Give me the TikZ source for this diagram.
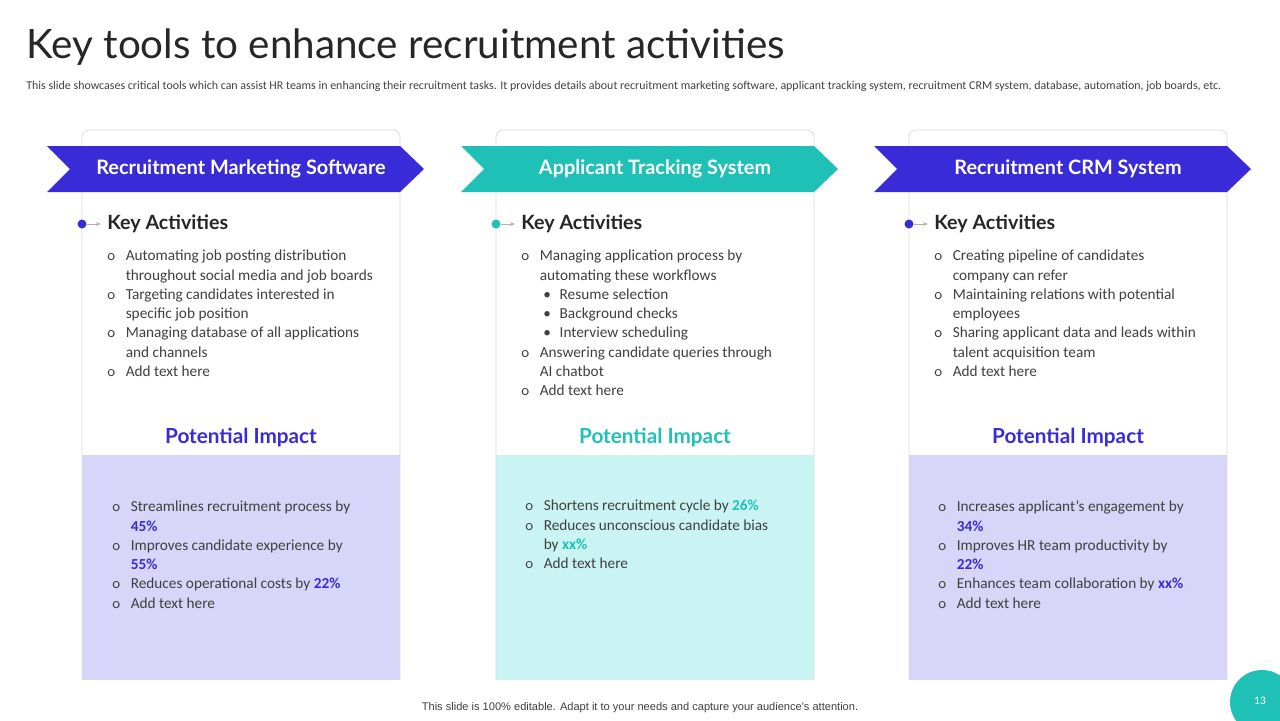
\documentclass[tikz,border=0pt]{standalone}
\usepackage{fontspec}
\setmainfont{Carlito}
\newfontfamily\headfont{Lato}
\newfontfamily\footfont{Liberation Sans}
\usetikzlibrary{positioning,arrows.meta}
\definecolor{blueA}{HTML}{3A2BD9}
\definecolor{tealA}{HTML}{1FC1B6}
\definecolor{lavA}{HTML}{D8D6F8}
\definecolor{cyanA}{HTML}{C9F4F3}
\definecolor{txtA}{HTML}{3F3F3F}
\tikzset{
  banner/.style={fill=#1, draw=none},
  bannertxt/.style={text=white, font=\headfont\bfseries\fontsize{11.3}{13}\selectfont},
  keytxt/.style={anchor=west, inner sep=0pt, font=\headfont\bfseries\fontsize{11.2}{13}\selectfont, text=black!85},
  impact/.style={inner sep=0pt, font=\headfont\bfseries\fontsize{11.8}{14}\selectfont, text=#1},
  bullets/.style={anchor=north west, inner sep=0pt, text=txtA, font=\fontsize{8.7}{10.95}\selectfont},
}
\newcommand{\ob}{\textsf{o}}
\begin{document}
\begin{tikzpicture}[x=0.02cm,y=-0.02cm]
\useasboundingbox (0,0) rectangle (1280,720);
\node[anchor=west, inner sep=0pt, text=black!85, font=\headfont\fontsize{23}{27}\selectfont] (title) at (26,47) {Key tools to enhance recruitment activities};
\node[anchor=west, inner sep=0pt, text=txtA, font=\fontsize{6.8}{8}\selectfont] (sub) at (26,86) {This slide showcases critical tools which can assist HR teams in enhancing their recruitment tasks. It provides details about recruitment marketing software, applicant tracking system, recruitment CRM system, database, automation, job boards, etc.};
%
\foreach \dx/\col/\pan/\name in {0/blueA/lavA/Recruitment Marketing Software, 414/tealA/cyanA/Applicant Tracking System, 827/blueA/lavA/Recruitment CRM System} {
  \begin{scope}[xshift=\dx*0.02cm]
    \fill[\pan] (82,455) rectangle (400,680);
    \draw[black!15, rounded corners=4pt] (82,680) -- (82,130) -- (400,130) -- (400,680);
    \fill[\col] (47,146) -- (424-24,146) -- (424,169) -- (400,192) -- (47,192) -- (70,169) -- cycle;
    \node[bannertxt] (ban\dx) at (241,169) {\name};
    \fill[\col] (82,224) circle (4.5);
    \draw[black!30, -{Stealth[length=3pt]}] (87,224) -- (101,224);
    \node[keytxt] (key\dx) at (107,224) {Key Activities};
    \node[impact=\col] (imp\dx) at (241,438) {Potential Impact};
  \end{scope}
}
%
\node[bullets] (ba1) at (107,247) {\begin{tabular}{@{}l@{\hspace{6pt}}l@{}}
\ob & Automating job posting distribution\\ & throughout social media and job boards\\
\ob & Targeting candidates interested in\\ & specific job position\\
\ob & Managing database of all applications\\ & and channels\\
\ob & Add text here\end{tabular}};
\node[bullets] (ba2) at (521,247) {\begin{tabular}{@{}l@{\hspace{6pt}}l@{}}
\ob & Managing application process by\\ & automating these workflows\\
 & \hspace{2pt}\textbullet\hspace{5pt}Resume selection\\
 & \hspace{2pt}\textbullet\hspace{5pt}Background checks\\
 & \hspace{2pt}\textbullet\hspace{5pt}Interview scheduling\\
\ob & Answering candidate queries through\\ & AI chatbot\\
\ob & Add text here\end{tabular}};
\node[bullets] (ba3) at (934,247) {\begin{tabular}{@{}l@{\hspace{6pt}}l@{}}
\ob & Creating pipeline of candidates\\ & company can refer\\
\ob & Maintaining relations with potential\\ & employees\\
\ob & Sharing applicant data and leads within\\ & talent acquisition team\\
\ob & Add text here\end{tabular}};
%
\node[bullets] (bi1) at (112,498) {\begin{tabular}{@{}l@{\hspace{6pt}}l@{}}
\ob & Streamlines recruitment process by\\ & \textbf{\color{blueA}45\%}\\
\ob & Improves candidate experience by\\ & \textbf{\color{blueA}55\%}\\
\ob & Reduces operational costs by \textbf{\color{blueA}22\%}\\
\ob & Add text here\end{tabular}};
\node[bullets] (bi2) at (525,497) {\begin{tabular}{@{}l@{\hspace{6pt}}l@{}}
\ob & Shortens recruitment cycle by \textbf{\color{tealA}26\%}\\
\ob & Reduces unconscious candidate bias\\ & by \textbf{\color{tealA}xx\%}\\
\ob & Add text here\end{tabular}};
\node[bullets] (bi3) at (938,498) {\begin{tabular}{@{}l@{\hspace{6pt}}l@{}}
\ob & Increases applicant's engagement by\\ & \textbf{\color{blueA}34\%}\\
\ob & Improves HR team productivity by\\ & \textbf{\color{blueA}22\%}\\
\ob & Enhances team collaboration by \textbf{\color{blueA}xx\%}\\
\ob & Add text here\end{tabular}};
%
\node[text=txtA, inner sep=0pt, font=\footfont\fontsize{6.3}{8}\selectfont] (foot) at (640,708) {This slide is 100\% editable. Adapt it to your needs and capture your audience's attention.};
\fill[tealA] (1262,702) circle (32);
\node[text=white, inner sep=0pt, font=\fontsize{6.5}{8}\selectfont] (pg) at (1260,701) {13};
\end{tikzpicture}
\end{document}
